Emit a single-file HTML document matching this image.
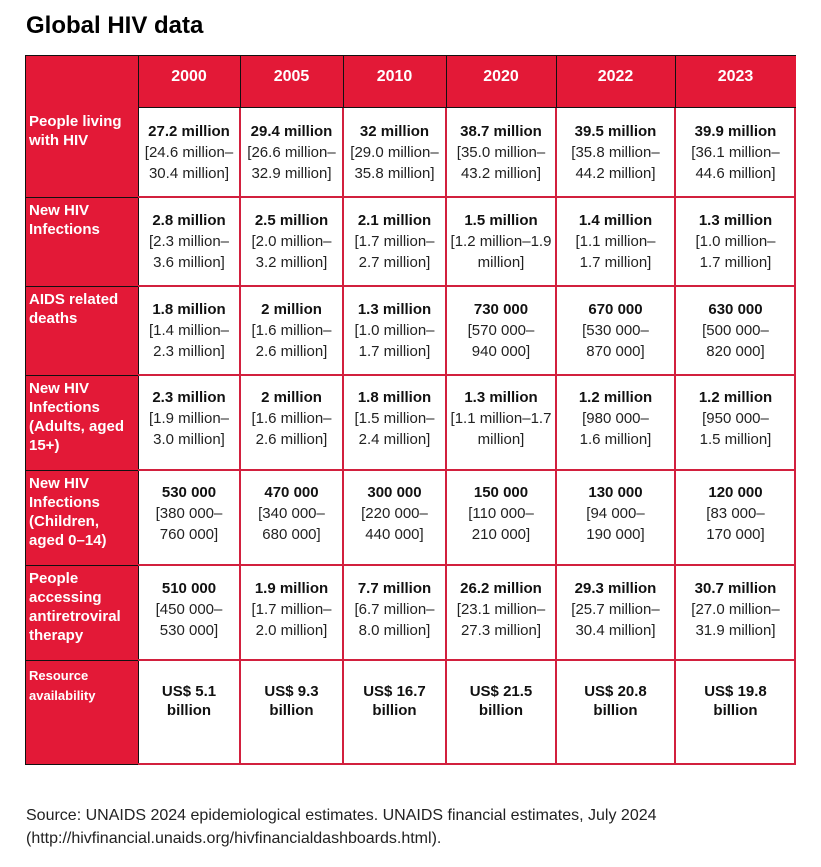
<!DOCTYPE html>
<html><head><meta charset="utf-8"><style>
body{margin:0;background:#fff;width:821px;height:867px;position:relative;font-family:"Liberation Sans",Arial,sans-serif;overflow:hidden}
.a{position:absolute}
h1{position:absolute;left:26px;top:12px;margin:0;font-size:24px;font-weight:bold;color:#000}
.red{background:#e31937}
.c{position:absolute;display:flex;flex-direction:column;justify-content:center;align-items:center;text-align:center;font-size:15px;line-height:21px;color:#222}
.c b{color:#111}
.h{position:absolute;color:#fff;font-weight:bold;font-size:16px;display:flex;align-items:center;justify-content:center}
.l{position:absolute;left:29px;color:#fff;font-weight:bold;font-size:15px;line-height:19px;width:106px}
.vr{position:absolute;width:2px;background:#d2203e}
.hr{position:absolute;height:2px;background:#d2203e}
.src{position:absolute;left:26px;font-size:16px;color:#222}
</style></head><body>
<h1>Global HIV data</h1>
<div class="a red" style="left:25px;top:55px;width:771px;height:710px"></div>
<div class="a" style="left:138px;top:107px;width:658px;height:658px;background:#fff"></div>
<div class="a" style="left:25px;top:55px;width:771px;height:1px;background:#111"></div>
<div class="a" style="left:25px;top:55px;width:1px;height:710px;background:#111"></div>
<div class="a" style="left:25px;top:764px;width:113px;height:1px;background:#111"></div>
<div class="a" style="left:138px;top:55px;width:1px;height:710px;background:#111"></div>
<div class="a" style="left:138px;top:107px;width:658px;height:1px;background:#111"></div>
<div class="a" style="left:240px;top:55px;width:1px;height:52px;background:#111"></div>
<div class="a" style="left:343px;top:55px;width:1px;height:52px;background:#111"></div>
<div class="a" style="left:446px;top:55px;width:1px;height:52px;background:#111"></div>
<div class="a" style="left:556px;top:55px;width:1px;height:52px;background:#111"></div>
<div class="a" style="left:675px;top:55px;width:1px;height:52px;background:#111"></div>
<div class="a" style="left:25px;top:197px;width:113px;height:1px;background:#111"></div>
<div class="a" style="left:25px;top:286px;width:113px;height:1px;background:#111"></div>
<div class="a" style="left:25px;top:375px;width:113px;height:1px;background:#111"></div>
<div class="a" style="left:25px;top:470px;width:113px;height:1px;background:#111"></div>
<div class="a" style="left:25px;top:565px;width:113px;height:1px;background:#111"></div>
<div class="a" style="left:25px;top:660px;width:113px;height:1px;background:#111"></div>
<div class="vr" style="left:239px;top:108px;height:657px"></div>
<div class="vr" style="left:342px;top:108px;height:657px"></div>
<div class="vr" style="left:445px;top:108px;height:657px"></div>
<div class="vr" style="left:555px;top:108px;height:657px"></div>
<div class="vr" style="left:674px;top:108px;height:657px"></div>
<div class="vr" style="left:794px;top:108px;height:657px"></div>
<div class="hr" style="left:138px;top:196px;width:658px"></div>
<div class="hr" style="left:138px;top:285px;width:658px"></div>
<div class="hr" style="left:138px;top:374px;width:658px"></div>
<div class="hr" style="left:138px;top:469px;width:658px"></div>
<div class="hr" style="left:138px;top:564px;width:658px"></div>
<div class="hr" style="left:138px;top:659px;width:658px"></div>
<div class="hr" style="left:138px;top:763px;width:658px"></div>
<div class="h" style="left:138px;top:55px;width:102px;height:44px">2000</div>
<div class="h" style="left:240px;top:55px;width:103px;height:44px">2005</div>
<div class="h" style="left:343px;top:55px;width:103px;height:44px">2010</div>
<div class="h" style="left:446px;top:55px;width:110px;height:44px">2020</div>
<div class="h" style="left:556px;top:55px;width:119px;height:44px">2022</div>
<div class="h" style="left:675px;top:55px;width:121px;height:44px">2023</div>
<div class="l" style="top:112px">People living with HIV</div>
<div class="l" style="top:201px">New HIV Infections</div>
<div class="l" style="top:290px">AIDS related deaths</div>
<div class="l" style="top:379px">New HIV Infections (Adults, aged 15+)</div>
<div class="l" style="top:474px">New HIV Infections (Children,<br>aged 0–14)</div>
<div class="l" style="top:569px">People accessing antiretroviral therapy</div>
<div class="l" style="top:666px;font-size:13px;line-height:20px">Resource availability</div>
<div class="c" style="left:138px;top:108px;width:102px;height:88px"><b>27.2 million</b>[24.6 million–<br>30.4 million]</div>
<div class="c" style="left:240px;top:108px;width:103px;height:88px"><b>29.4 million</b>[26.6 million–<br>32.9 million]</div>
<div class="c" style="left:343px;top:108px;width:103px;height:88px"><b>32 million</b>[29.0 million–<br>35.8 million]</div>
<div class="c" style="left:446px;top:108px;width:110px;height:88px"><b>38.7 million</b>[35.0 million–<br>43.2 million]</div>
<div class="c" style="left:556px;top:108px;width:119px;height:88px"><b>39.5 million</b>[35.8 million–<br>44.2 million]</div>
<div class="c" style="left:675px;top:108px;width:121px;height:88px"><b>39.9 million</b>[36.1 million–<br>44.6 million]</div>
<div class="c" style="left:138px;top:197px;width:102px;height:88px"><b>2.8 million</b>[2.3 million–<br>3.6 million]</div>
<div class="c" style="left:240px;top:197px;width:103px;height:88px"><b>2.5 million</b>[2.0 million–<br>3.2 million]</div>
<div class="c" style="left:343px;top:197px;width:103px;height:88px"><b>2.1 million</b>[1.7 million–<br>2.7 million]</div>
<div class="c" style="left:446px;top:197px;width:110px;height:88px;white-space:nowrap"><b>1.5 million</b>[1.2 million–1.9<br>million]</div>
<div class="c" style="left:556px;top:197px;width:119px;height:88px"><b>1.4 million</b>[1.1 million–<br>1.7 million]</div>
<div class="c" style="left:675px;top:197px;width:121px;height:88px"><b>1.3 million</b>[1.0 million–<br>1.7 million]</div>
<div class="c" style="left:138px;top:286px;width:102px;height:88px"><b>1.8 million</b>[1.4 million–<br>2.3 million]</div>
<div class="c" style="left:240px;top:286px;width:103px;height:88px"><b>2 million</b>[1.6 million–<br>2.6 million]</div>
<div class="c" style="left:343px;top:286px;width:103px;height:88px"><b>1.3 million</b>[1.0 million–<br>1.7 million]</div>
<div class="c" style="left:446px;top:286px;width:110px;height:88px"><b>730 000</b>[570 000–<br>940 000]</div>
<div class="c" style="left:556px;top:286px;width:119px;height:88px"><b>670 000</b>[530 000–<br>870 000]</div>
<div class="c" style="left:675px;top:286px;width:121px;height:88px"><b>630 000</b>[500 000–<br>820 000]</div>
<div class="c" style="left:138px;top:375px;width:102px;height:86px"><b>2.3 million</b>[1.9 million–<br>3.0 million]</div>
<div class="c" style="left:240px;top:375px;width:103px;height:86px"><b>2 million</b>[1.6 million–<br>2.6 million]</div>
<div class="c" style="left:343px;top:375px;width:103px;height:86px"><b>1.8 million</b>[1.5 million–<br>2.4 million]</div>
<div class="c" style="left:446px;top:375px;width:110px;height:86px;white-space:nowrap"><b>1.3 million</b>[1.1 million–1.7<br>million]</div>
<div class="c" style="left:556px;top:375px;width:119px;height:86px"><b>1.2 million</b>[980 000–<br>1.6 million]</div>
<div class="c" style="left:675px;top:375px;width:121px;height:86px"><b>1.2 million</b>[950 000–<br>1.5 million]</div>
<div class="c" style="left:138px;top:470px;width:102px;height:86px"><b>530 000</b>[380 000–<br>760 000]</div>
<div class="c" style="left:240px;top:470px;width:103px;height:86px"><b>470 000</b>[340 000–<br>680 000]</div>
<div class="c" style="left:343px;top:470px;width:103px;height:86px"><b>300 000</b>[220 000–<br>440 000]</div>
<div class="c" style="left:446px;top:470px;width:110px;height:86px"><b>150 000</b>[110 000–<br>210 000]</div>
<div class="c" style="left:556px;top:470px;width:119px;height:86px"><b>130 000</b>[94 000–<br>190 000]</div>
<div class="c" style="left:675px;top:470px;width:121px;height:86px"><b>120 000</b>[83 000–<br>170 000]</div>
<div class="c" style="left:138px;top:565px;width:102px;height:88px"><b>510 000</b>[450 000–<br>530 000]</div>
<div class="c" style="left:240px;top:565px;width:103px;height:88px"><b>1.9 million</b>[1.7 million–<br>2.0 million]</div>
<div class="c" style="left:343px;top:565px;width:103px;height:88px"><b>7.7 million</b>[6.7 million–<br>8.0 million]</div>
<div class="c" style="left:446px;top:565px;width:110px;height:88px"><b>26.2 million</b>[23.1 million–<br>27.3 million]</div>
<div class="c" style="left:556px;top:565px;width:119px;height:88px"><b>29.3 million</b>[25.7 million–<br>30.4 million]</div>
<div class="c" style="left:675px;top:565px;width:121px;height:88px"><b>30.7 million</b>[27.0 million–<br>31.9 million]</div>
<div class="c" style="left:138px;top:682px;width:102px;height:38px;line-height:19px"><b>US$ 5.1<br>billion</b></div>
<div class="c" style="left:240px;top:682px;width:103px;height:38px;line-height:19px"><b>US$ 9.3<br>billion</b></div>
<div class="c" style="left:343px;top:682px;width:103px;height:38px;line-height:19px"><b>US$ 16.7<br>billion</b></div>
<div class="c" style="left:446px;top:682px;width:110px;height:38px;line-height:19px"><b>US$ 21.5<br>billion</b></div>
<div class="c" style="left:556px;top:682px;width:119px;height:38px;line-height:19px"><b>US$ 20.8<br>billion</b></div>
<div class="c" style="left:675px;top:682px;width:121px;height:38px;line-height:19px"><b>US$ 19.8<br>billion</b></div>
<div class="src" style="top:807px">Source: UNAIDS 2024 epidemiological estimates. UNAIDS financial estimates, July 2024</div>
<div class="src" style="top:830px">(http://hivfinancial.unaids.org/hivfinancialdashboards.html).</div>
</body></html>
